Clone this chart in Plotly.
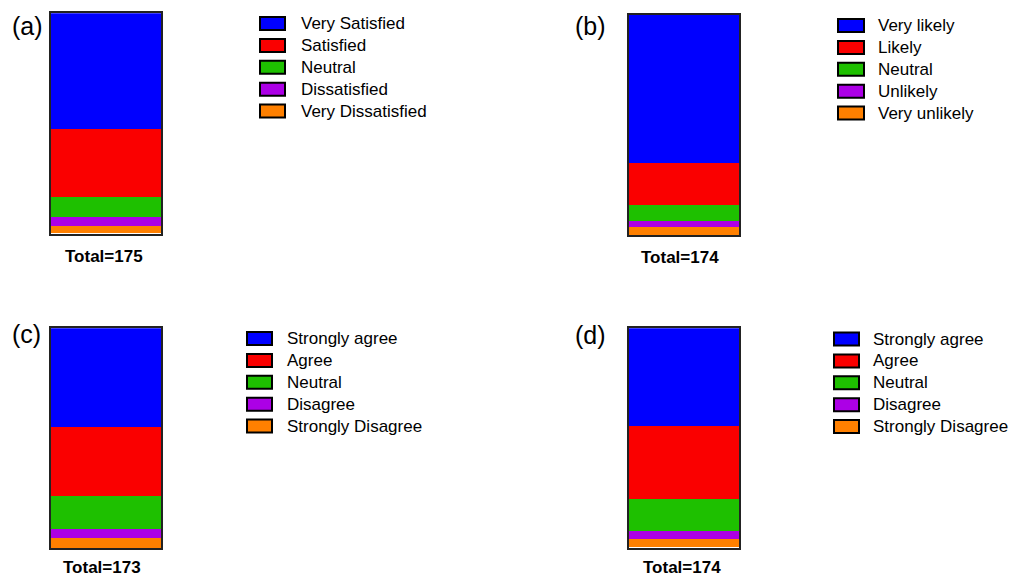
import plotly.graph_objects as go

W, H = 1011, 578

panel_labels = ["(a)", "(b)", "(c)", "(d)"]
categories_a = ["Very Satisfied", "Satisfied", "Neutral", "Dissatisfied", "Very Dissatisfied"]
categories_b = ["Very likely", "Likely", "Neutral", "Unlikely", "Very unlikely"]
categories_c = ["Strongly agree", "Agree", "Neutral", "Disagree", "Strongly Disagree"]
categories_d = ["Strongly agree", "Agree", "Neutral", "Disagree", "Strongly Disagree"]

values_a = [92, 54, 16, 7, 6]
values_b = [117, 33, 13, 5, 6]
values_c = [78, 54, 26, 7, 8]
values_d = [78, 58, 25, 6, 7]

colors = ["#0000FF", "#FA0000", "#1EC000", "#AC00E6", "#FF8000"]

panels = [
    dict(label=panel_labels[0], cats=categories_a, vals=values_a,
         bar=(51, 161, 13.3, 233.5), lab=(27, 26), tot=(104, 256),
         leg=(260, 285, 299, 23.5)),
    dict(label=panel_labels[1], cats=categories_b, vals=values_b,
         bar=(629, 739, 15, 235), lab=(590, 26), tot=(680, 257),
         leg=(838, 864, 876, 25.5)),
    dict(label=panel_labels[2], cats=categories_c, vals=values_c,
         bar=(51, 161, 328.3, 548.3), lab=(26, 334), tot=(102, 567.5),
         leg=(247, 272, 285, 338.5)),
    dict(label=panel_labels[3], cats=categories_d, vals=values_d,
         bar=(629, 739, 328.3, 547.7), lab=(590, 335), tot=(682, 567),
         leg=(834, 859, 871, 339)),
]

fig = go.Figure()
shapes = []
annotations = []
FONT = "Liberation Sans, Arial, sans-serif"
ROW = 21.9

for i, p in enumerate(panels):
    suffix = "" if i == 0 else str(i + 1)
    xa, ya = "x" + suffix, "y" + suffix
    x0, x1, top, bot = p["bar"]
    total = sum(p["vals"])
    # stack from bottom: last category at bottom
    for cat, val, col in reversed(list(zip(p["cats"], p["vals"], colors))):
        fig.add_trace(go.Bar(x=[0], y=[val], marker=dict(color=col, line=dict(width=0)),
                             width=1, name=cat, showlegend=False, xaxis=xa, yaxis=ya,
                             hoverinfo="name+y"))
    fig.layout["xaxis" + suffix] = dict(domain=[x0 / W, x1 / W], range=[-0.5, 0.5],
                                        showticklabels=False, showgrid=False, zeroline=False,
                                        showline=True, mirror=True, linecolor="#222",
                                        linewidth=1.5, ticks="", anchor=ya)
    fig.layout["yaxis" + suffix] = dict(domain=[1 - bot / H, 1 - top / H], range=[0, total],
                                        showticklabels=False, showgrid=False, zeroline=False,
                                        showline=True, mirror=True, linecolor="#222",
                                        linewidth=1.5, ticks="", anchor=xa)
    # panel label
    annotations.append(dict(text=p["label"], x=p["lab"][0] / W, y=1 - p["lab"][1] / H,
                            xref="paper", yref="paper", showarrow=False,
                            xanchor="center", yanchor="middle",
                            font=dict(family=FONT, size=25, color="black")))
    # total label
    annotations.append(dict(text="<b>Total=%d</b>" % total, x=p["tot"][0] / W,
                            y=1 - p["tot"][1] / H, xref="paper", yref="paper",
                            showarrow=False, xanchor="center", yanchor="middle",
                            font=dict(family=FONT, size=17, color="black")))
    # legend
    bx0, bx1, tx, ly = p["leg"]
    for k, (cat, col) in enumerate(zip(p["cats"], colors)):
        yc = ly + k * ROW
        shapes.append(dict(type="rect", xref="paper", yref="paper",
                           x0=bx0 / W, x1=bx1 / W, y0=1 - (yc + 6.5) / H, y1=1 - (yc - 6.5) / H,
                           fillcolor=col, line=dict(color="black", width=2)))
        annotations.append(dict(text=cat, x=tx / W, y=1 - yc / H, xref="paper", yref="paper",
                                showarrow=False, xanchor="left", yanchor="middle",
                                font=dict(family=FONT, size=17, color="black")))

fig.update_layout(width=W, height=H, margin=dict(l=0, r=0, t=0, b=0),
                  paper_bgcolor="white", plot_bgcolor="white", barmode="stack",
                  bargap=0, shapes=shapes, annotations=annotations, showlegend=False)

fig.write_html("out.html", config={"displayModeBar": False},
               post_script="document.body.style.margin='0px';document.body.style.overflow='hidden';")
